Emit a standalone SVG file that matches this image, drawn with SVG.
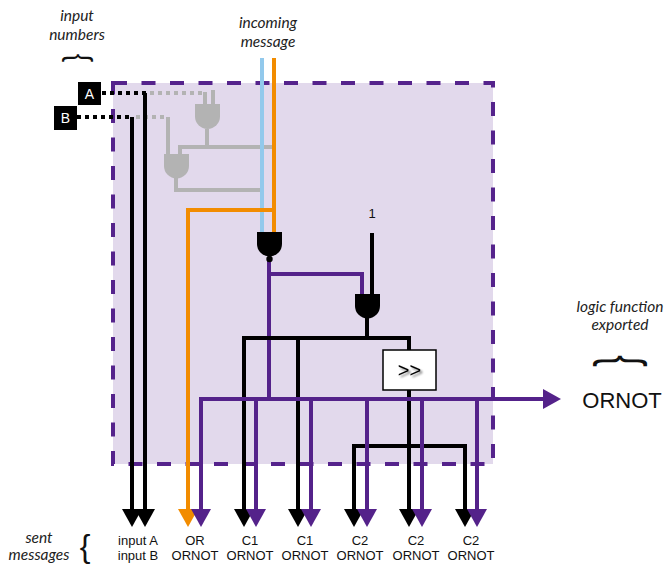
<svg xmlns="http://www.w3.org/2000/svg" width="665" height="564" viewBox="0 0 665 564">
<defs>
<style>
.w{fill:none;stroke-width:4;stroke-linejoin:miter;stroke-linecap:butt}
.k{stroke:#000}
.p{stroke:#54228a}
.o{stroke:#f28c00}
.b{stroke:#92c9ec}
.g{stroke:#b3b3b3}
.dot{stroke-dasharray:4 4}
.it{font-family:Lato,"Open Sans",sans-serif;font-style:italic;font-size:15.5px;fill:#222;text-anchor:middle}
.lb{font-family:"Liberation Sans",Arial,sans-serif;font-size:13px;fill:#111;text-anchor:middle}
.br{font-family:"Liberation Sans",Arial,sans-serif;fill:#111;text-anchor:middle}
</style>
<marker id="ak" viewBox="0 0 18 20" refX="0" refY="10" markerWidth="18" markerHeight="20" markerUnits="userSpaceOnUse" orient="auto"><path d="M0,0 L18,10 L0,20 Z" fill="#000"/></marker>
<marker id="ap" viewBox="0 0 18 20" refX="0" refY="10" markerWidth="18" markerHeight="20" markerUnits="userSpaceOnUse" orient="auto"><path d="M0,0 L18,10 L0,20 Z" fill="#54228a"/></marker>
<marker id="ao" viewBox="0 0 18 20" refX="0" refY="10" markerWidth="18" markerHeight="20" markerUnits="userSpaceOnUse" orient="auto"><path d="M0,0 L18,10 L0,20 Z" fill="#f28c00"/></marker>
<filter id="sh" x="-30%" y="-30%" width="160%" height="160%"><feGaussianBlur in="SourceAlpha" stdDeviation="1.2"/><feOffset dx="1.5" dy="2" result="o"/><feComponentTransfer><feFuncA type="linear" slope="0.5"/></feComponentTransfer><feMerge><feMergeNode/><feMergeNode in="SourceGraphic"/></feMerge></filter>
</defs>
<rect width="665" height="564" fill="#fff"/>

<g id="module">
<rect x="113" y="83" width="380" height="381" fill="#e2d9ec"/>
<rect x="113" y="83" width="380" height="381" fill="none" stroke="#55238c" stroke-width="4" stroke-dasharray="14 14.5"/>
</g>

<g id="connectors">
<path class="w g dot" d="M150,93 H205"/>
<path class="w g" d="M205,92 V104 M213,90 V104"/>
<path class="w g dot" d="M136,117 H166"/>
<path class="w g" d="M168,117 V154"/>
<path class="w g" d="M207,129 V147 M276,147 H180 V154"/>
<path class="w g" d="M176,178 V190 H262"/>
<path class="w k dot" d="M102,93 H146"/>
<path class="w k dot" d="M77,117 H133"/>
<path class="w k" d="M145,93 V509" marker-end="url(#ak)"/>
<path class="w k" d="M132,117 V509" marker-end="url(#ak)"/>
<path class="w b" d="M262,58 V233"/>
<path class="w o" d="M274,58 V233"/>
<path class="w o" d="M274,210 H188 V509" marker-end="url(#ao)"/>
<path class="w k" d="M372,233 V295"/>
<path class="w p" d="M269,259 V400 M269,274 H362 V295"/>
<path class="w k" d="M367,316 V338"/>
<path class="w k" d="M409,350 V338 H244 V509" marker-end="url(#ak)"/>
<path class="w k" d="M298,338 V509" marker-end="url(#ak)"/>
<path class="w k" d="M409,390 V509" marker-end="url(#ak)"/>
<path class="w k" d="M354,509 V446 H465 V509"/>
<path class="w k" d="M354,508 V509" marker-end="url(#ak)"/>
<path class="w k" d="M465,508 V509" marker-end="url(#ak)"/>
<path class="w p" d="M201,509 V399 H543" marker-end="url(#ap)"/>
<path class="w p" d="M201,400 V509" marker-end="url(#ap)"/>
<path class="w p" d="M256,399 V509" marker-end="url(#ap)"/>
<path class="w p" d="M311,399 V509" marker-end="url(#ap)"/>
<path class="w p" d="M367,399 V509" marker-end="url(#ap)"/>
<path class="w p" d="M422,399 V509" marker-end="url(#ap)"/>
<path class="w p" d="M477,399 V509" marker-end="url(#ap)"/>
</g>

<g id="gateA"><path d="M195,104 H220 V116.5 A12.5,12.5 0 0 1 195,116.5 Z" fill="#b3b3b3"/></g>
<g id="gateB"><path d="M164,154 H189 V166 A12.5,12.5 0 0 1 164,166 Z" fill="#b3b3b3"/></g>
<g id="gateOR"><path d="M257,232 H282 V244 A12.5,12.5 0 0 1 257,244 Z" fill="#000"/><circle cx="269.5" cy="259" r="3.2" fill="#000"/></g>
<g id="gateNOT"><path d="M355,294 H380 V306 A12.5,12.5 0 0 1 355,306 Z" fill="#000"/></g>

<g id="shift">
<rect x="383" y="350" width="53" height="40" fill="#fff" stroke="#000" stroke-width="1.5"/>
<text x="409.5" y="376.5" font-family="Liberation Sans, Arial, sans-serif" font-size="20" text-anchor="middle" fill="#000" filter="url(#sh)">&gt;&gt;</text>
</g>

<g id="inputA"><rect x="78" y="82" width="23" height="23" fill="#000"/><text x="89.5" y="98.5" font-family="Liberation Sans, Arial, sans-serif" font-size="14" fill="#fff" text-anchor="middle">A</text></g>
<g id="inputB"><rect x="54" y="106" width="23" height="24" fill="#000"/><text x="65.5" y="123" font-family="Liberation Sans, Arial, sans-serif" font-size="14" fill="#fff" text-anchor="middle">B</text></g>

<g id="const1"><text x="372" y="218" class="lb" font-size="14">1</text></g>

<g id="labels">
<text class="it" x="77" y="21">input</text>
<text class="it" x="77" y="40">numbers</text>
<text class="br" font-size="34" transform="translate(78,58) rotate(90) scale(0.75,1)" x="0" y="9">{</text>
<text class="it" x="268" y="28">incoming</text>
<text class="it" x="268" y="47">message</text>
<text class="it" x="620" y="312">logic function</text>
<text class="it" x="620" y="330">exported</text>
<text class="br" font-size="58" transform="translate(620,361) rotate(90) scale(0.6,1)" x="0" y="15">{</text>
<text x="622" y="408" font-family="Liberation Sans, Arial, sans-serif" font-size="22" fill="#111" text-anchor="middle">ORNOT</text>
<text class="it" x="39" y="543">sent</text>
<text class="it" x="39" y="560">messages</text>
<text class="br" font-size="32" x="85" y="557">{</text>
</g>

<g id="outLabels">
<text class="lb" x="138" y="545">input A</text>
<text class="lb" x="138" y="560">input B</text>
<text class="lb" x="195" y="545">OR</text>
<text class="lb" x="195" y="560">ORNOT</text>
<text class="lb" x="250" y="545">C1</text>
<text class="lb" x="250" y="560">ORNOT</text>
<text class="lb" x="305" y="545">C1</text>
<text class="lb" x="305" y="560">ORNOT</text>
<text class="lb" x="360" y="545">C2</text>
<text class="lb" x="360" y="560">ORNOT</text>
<text class="lb" x="416" y="545">C2</text>
<text class="lb" x="416" y="560">ORNOT</text>
<text class="lb" x="471" y="545">C2</text>
<text class="lb" x="471" y="560">ORNOT</text>
</g>
</svg>
